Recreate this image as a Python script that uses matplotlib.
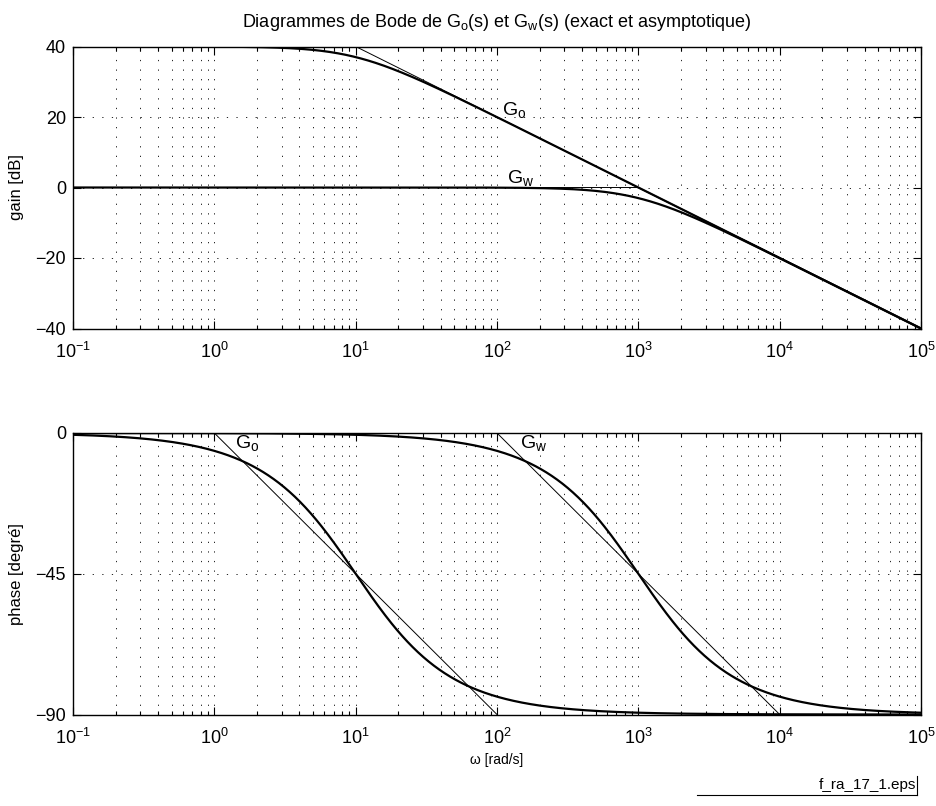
import matplotlib
matplotlib.use("Agg")
import matplotlib.pyplot as plt
from matplotlib.ticker import LogLocator, NullFormatter, FixedLocator, LogFormatterSciNotation
import numpy as np

plt.rcParams['font.family'] = ['Liberation Sans', 'DejaVu Sans']
plt.rcParams['mathtext.fontset'] = 'custom'
plt.rcParams['mathtext.rm'] = 'Liberation Sans'

# ── Données : deux systèmes du premier ordre ───────────────────────────────
noms = ["o", "w"]
gain_statique_db = [40, 0]        # gain à basse fréquence [dB]
pulsation_coupure = [10, 1000]    # pulsation de cassure [rad/s]

decades = [1e-1, 1e0, 1e1, 1e2, 1e3, 1e4, 1e5]
gain_ticks = [-40, -20, 0, 20, 40]
phase_ticks = [-90, -45, 0]

# positions des étiquettes (omega, valeur)
etiq_gain = [(109, 20.3), (117, 1.2)]
etiq_phase = [(1.4, -5.0), (146, -5.0)]

omega = np.logspace(-1, 5, 800)
omega_min, omega_max = decades[0], decades[-1]

fig = plt.figure(figsize=(9.37, 8.06), dpi=100)
ax1 = fig.add_axes([73 / 937, 1 - 328.5 / 806, 848 / 937, 282 / 806])
ax2 = fig.add_axes([73 / 937, 1 - 714.5 / 806, 848 / 937, 281.5 / 806])

pointille = (0, (1.5, 10))


def style_axes(ax, yticks):
    ax.set_xscale("log")
    ax.set_xlim(omega_min, omega_max)
    ax.set_ylim(min(yticks), max(yticks))
    ax.yaxis.set_major_locator(FixedLocator(yticks))
    ax.xaxis.set_major_locator(FixedLocator(decades))
    ax.xaxis.set_major_formatter(LogFormatterSciNotation())
    ax.xaxis.set_minor_locator(LogLocator(base=10, subs=np.arange(2, 10), numticks=20))
    ax.xaxis.set_minor_formatter(NullFormatter())
    ax.tick_params(which="both", direction="in", top=True, right=True,
                   labelsize=13, width=0.8)
    ax.tick_params(which="major", length=6)
    ax.tick_params(axis="x", which="major", pad=10)
    ax.tick_params(axis="y", which="major", pad=5)
    ax.tick_params(which="minor", length=3)
    ax.grid(True, which="major", linestyle=pointille, color="black", linewidth=0.6)
    ax.grid(True, which="minor", axis="x", linestyle=pointille, color="black", linewidth=0.6)
    for s in ax.spines.values():
        s.set_linewidth(1.0)


for i in range(2):
    K = gain_statique_db[i]
    wc = pulsation_coupure[i]
    # exact
    gain = K - 10 * np.log10(1 + (omega / wc) ** 2)
    phase = -np.degrees(np.arctan(omega / wc))
    ax1.plot(omega, gain, color="black", linewidth=1.6)
    ax2.plot(omega, phase, color="black", linewidth=1.6)
    # asymptotique
    wa = np.array([omega_min, wc, omega_max])
    ga = np.array([K, K, K - 20 * np.log10(omega_max / wc)])
    ax1.plot(wa, ga, color="black", linewidth=0.7)
    wp = np.array([wc / 10, wc * 10])
    ax2.plot(wp, [0, -90], color="black", linewidth=0.7)

    x, y = etiq_gain[i]
    ax1.text(x, y, r"G$_{\mathrm{%s}}$" % noms[i], fontsize=14, ha="left", va="baseline")
    x, y = etiq_phase[i]
    ax2.text(x, y, r"G$_{\mathrm{%s}}$" % noms[i], fontsize=14, ha="left", va="baseline")

style_axes(ax1, gain_ticks)
style_axes(ax2, phase_ticks)

ax1.set_yticklabels(["\u221240", "\u221220", "0", "20", "40"])
ax2.set_yticklabels(["\u221290", "\u221245", "0"])

ax1.set_ylabel("gain [dB]", fontsize=12, labelpad=8)
ax2.set_ylabel("phase [degré]", fontsize=12, labelpad=8)
ax2.set_xlabel("ω [rad/s]", fontsize=10, labelpad=3)
ax1.set_title(r"Diagrammes de Bode de G$_{\mathrm{o}}$(s) et G$_{\mathrm{w}}$(s) (exact et asymptotique)",
              fontsize=13, pad=14)

# cartouche
fig.text(916 / 937, 1 - 785 / 806, "f_ra_17_1.eps", fontsize=11,
         ha="right", va="center")
fig.add_artist(plt.Line2D([697 / 937, 917 / 937], [1 - 795 / 806, 1 - 795 / 806],
                          color="black", linewidth=0.8))
fig.add_artist(plt.Line2D([917 / 937, 917 / 937], [1 - 795 / 806, 1 - 776 / 806],
                          color="black", linewidth=0.8))

plt.savefig("out.png", dpi=100)
